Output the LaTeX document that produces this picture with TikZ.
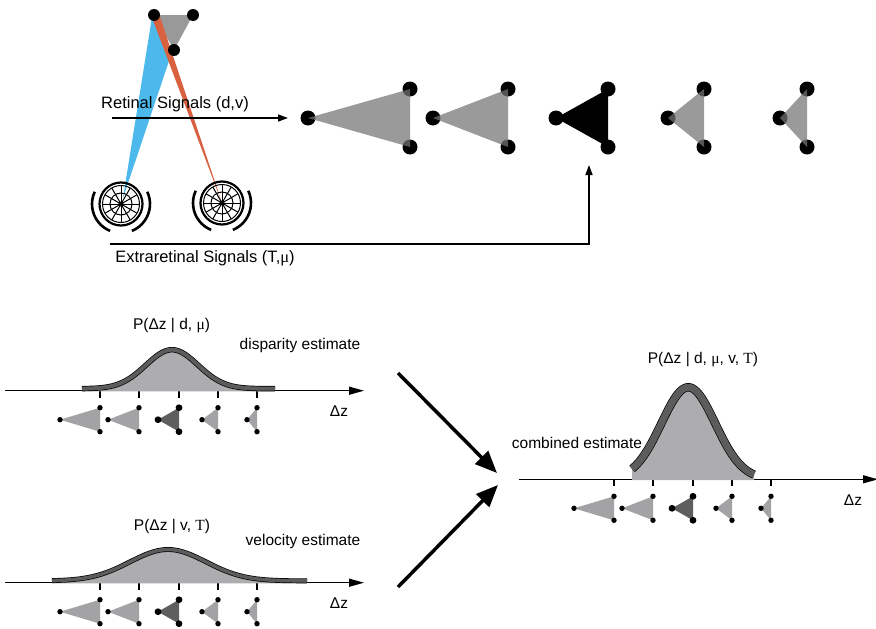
\documentclass[tikz,border=0pt]{standalone}
\usepackage{fontspec}
\setmainfont{Liberation Sans}
\newfontfamily\greekfont{Liberation Serif}
\usetikzlibrary{arrows.meta}
\definecolor{objgray}{rgb}{0.6,0.6,0.6}
\definecolor{stimgray}{rgb}{0.455,0.455,0.46}
\definecolor{lightstim}{rgb}{0.64,0.64,0.65}
\definecolor{darkstim}{rgb}{0.37,0.37,0.37}
\definecolor{bandgray}{rgb}{0.36,0.36,0.36}
\definecolor{fillgray}{rgb}{0.68,0.68,0.69}
\definecolor{leftray}{rgb}{0.30,0.72,0.92}
\definecolor{rightray}{rgb}{0.85,0.38,0.25}

% eye with its two lids, centred on a named coordinate
\newcommand{\eyeball}[1]{%
  \draw[eyeline, line width=2.2pt] (#1) circle (21.5);
  \draw[eyeline] (#1) circle (18.5) (#1) circle (11);
  \foreach \a in {0,30,...,330} \draw[eyeline] (#1) -- ++(\a:18.5);
  \fill (#1) circle (2.5);
  \draw[lid] (#1) ++(112:29) arc (112:205:29);
  \draw[lid] (#1) ++(-25:29) arc (-25:68:29);
}

% depth axis with ticks and the five stimuli under it
\newcommand{\depthaxis}{%
  \draw[axisline] (5,0) -- (364,0);
  \foreach \xl/\xr in {60/100,108/139,202/218,247/257} {
    \draw[tickline] (\xr,0) -- (\xr,7);
    \fill[lightstim] (\xl,29) -- (\xr,17) -- (\xr,41) -- cycle;
    \fill (\xl,29) circle (2.7) (\xr,17) circle (2.7) (\xr,41) circle (2.7);
  }
  \draw[tickline] (179,0) -- (179,7);
  \fill[darkstim] (158,29) -- (179,17) -- (179,41) -- cycle;
  \fill (158,29) circle (3.4) (179,17) circle (3.4) (179,41) circle (3.4);
  \node[lbl] at (339,20.5) {Δz};
}

% bell curve: mean, spread, height, lift, from, to, band width
\newcommand{\bellband}[7]{%
  \fill[fillgray] plot[domain=#5:#6, samples=90] (\x, {-(#4+#3*exp(-0.5*((\x-#1)/#2)^2))}) -- (#6,0.7) -- (#5,0.7) -- cycle;
  \draw[line width=#7+1.4pt] plot[domain=#5:#6, samples=90] (\x, {-(#4+#3*exp(-0.5*((\x-#1)/#2)^2))});
  \draw[bandgray, line width=#7] plot[domain=#5:#6, samples=90] (\x, {-(#4+#3*exp(-0.5*((\x-#1)/#2)^2))});
}

\begin{document}
\begin{tikzpicture}[x=1pt, y=-1pt,
  toplbl/.style={inner sep=0pt, font=\fontsize{16.5}{20}\selectfont},
  lbl/.style={inner sep=0pt, font=\fontsize{15.5}{18}\selectfont},
  signal/.style={line width=1.4pt, -{Triangle[length=10pt,width=7pt]}},
  merge/.style={line width=3.5pt, -{Triangle[length=22pt,width=18pt]}},
  axisline/.style={line width=1.3pt, -{Triangle[length=15pt,width=8pt]}},
  tickline/.style={line width=1.3pt},
  eyeline/.style={line width=1pt},
  lid/.style={line width=2.6pt}]
\useasboundingbox (0,0) rectangle (876,629);

% object seen by both eyes
\coordinate (obj-l) at (154,15);
\coordinate (obj-r) at (193,15);
\coordinate (obj-b) at (174,50);
\coordinate (eye-l) at (121,204);
\coordinate (eye-r) at (222,203);
\fill[objgray] (obj-l) -- (obj-r) -- (obj-b) -- cycle;
\fill[leftray] (152,17) -- (172,52) -- (123,198) -- cycle;
\fill[rightray] (151,15) -- (159,14) -- (eye-r) -- cycle;
\foreach \p in {obj-l,obj-r,obj-b} \fill (\p) circle (6);
\eyeball{eye-l}
\eyeball{eye-r}

% stimuli at increasing depth
\foreach \i/\xl/\xr in {1/308/410, 2/433/508, 3/556/608, 4/668/704, 5/780/807} {
  \coordinate (s\i-m) at (\xl,118);
  \coordinate (s\i-t) at (\xr,89);
  \coordinate (s\i-b) at (\xr,147);
}
\foreach \i in {1,2,4,5} {
  \fill (s\i-m) circle (7.5) (s\i-t) circle (7.5) (s\i-b) circle (7.5);
  \fill[stimgray, opacity=0.73] (s\i-m) -- (s\i-t) -- (s\i-b) -- cycle;
}
\fill (s3-m) circle (7.5) (s3-t) circle (7.5) (s3-b) circle (7.5);
\fill (s3-m) -- (s3-t) -- (s3-b) -- cycle;

% signals
\node[toplbl] (retinal) at (175,104) {Retinal Signals (d,v)};
\coordinate (ret-start) at (112,118);
\draw[signal] (ret-start) -- ([xshift=-20pt]s1-m);
\node[toplbl] (extraretinal) at (205,258) {Extraretinal Signals (T,{\greekfont μ})};
\coordinate (extra-start) at (110,244);
\coordinate (extra-end) at (589,165);
\draw[signal] (extra-start) -| (extra-end);

% disparity estimate
\begin{scope}[shift={(0,390.7)}]
  \depthaxis
  \bellband{172}{26}{39}{2}{82}{275}{4pt}
\end{scope}
\node[lbl] (disp-title) at (171.5,326) {P(Δz | d, {\greekfont μ})};
\node[lbl] (disp-name) at (300,345) {disparity estimate};

% velocity estimate
\begin{scope}[shift={(0,582.7)}]
  \depthaxis
  \bellband{168}{38}{31.4}{1.8}{52}{307}{3.5pt}
\end{scope}
\node[lbl] (velo-title) at (172,527) {P(Δz | v, {\greekfont T})};
\node[lbl] (velo-name) at (303,541) {velocity estimate};

% combined estimate
\begin{scope}[shift={(514,479.3)}]
  \depthaxis
  \bellband{174.3}{27}{92}{0}{118}{240}{7pt}
\end{scope}
\node[lbl] (comb-title) at (703,360) {P(Δz | d, {\greekfont μ}, v, {\greekfont T})};
\node[lbl] (comb-name) at (577,443) {combined estimate};

\coordinate (disp-out) at (398,373);
\coordinate (velo-out) at (398,587);
\coordinate (comb-up) at (497,473);
\coordinate (comb-low) at (498,485);
\draw[merge] (disp-out) -- (comb-up);
\draw[merge] (velo-out) -- (comb-low);
\end{tikzpicture}
\end{document}
